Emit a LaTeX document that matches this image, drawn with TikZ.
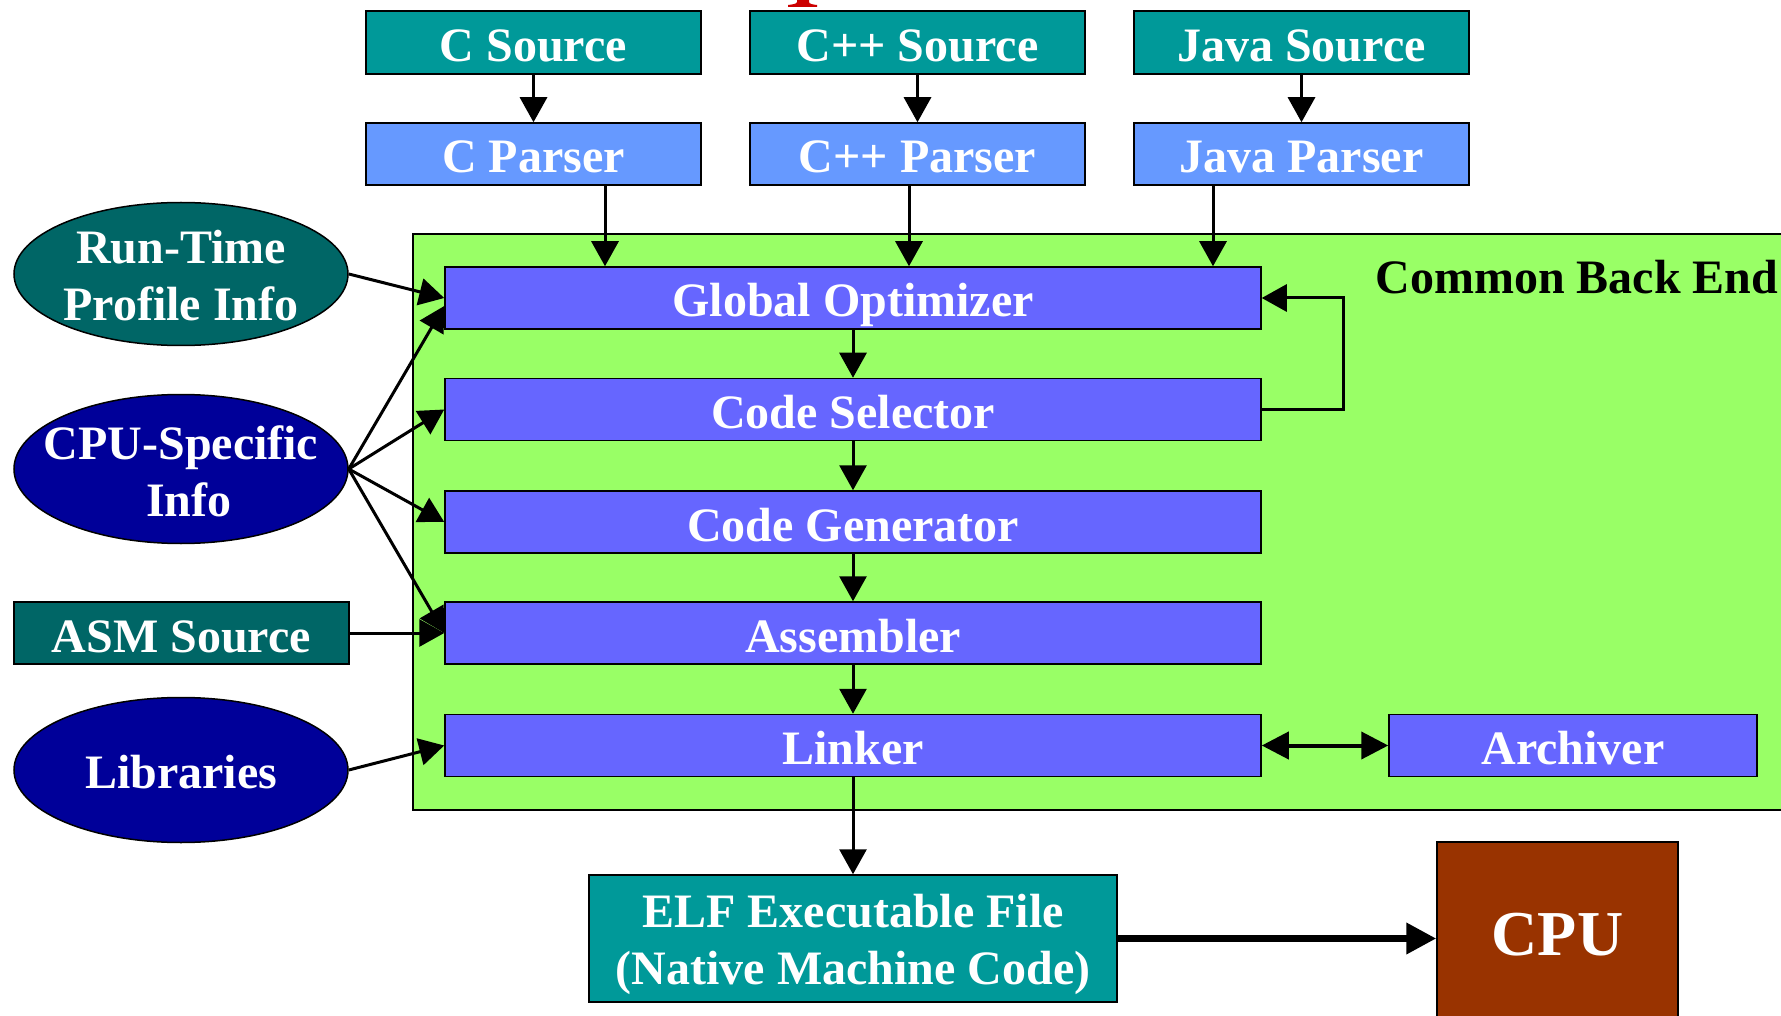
\documentclass[tikz,border=0pt]{standalone}
\usepackage{fontspec}
\setmainfont{Liberation Serif}
\usetikzlibrary{arrows.meta,shapes.geometric}
\definecolor{srcteal}{HTML}{009999}
\definecolor{parserblue}{HTML}{6699FF}
\definecolor{beblue}{HTML}{6666FF}
\definecolor{begreen}{HTML}{99FF66}
\definecolor{darkteal}{HTML}{006666}
\definecolor{navyblue}{HTML}{000099}
\definecolor{cpubrown}{HTML}{993300}
\definecolor{titlered}{HTML}{CC0000}
\begin{document}
\begin{tikzpicture}[x=1pt,y=-1pt,
  basebox/.style={draw=black, line width=1.5pt, inner sep=0pt, text=white,
    font=\bfseries\fontsize{48}{57}\selectfont, align=center},
  box/.style={basebox, text height=38pt, text depth=0pt},
  srcbox/.style={box, fill=srcteal, minimum width=335pt, minimum height=63pt},
  parbox/.style={box, fill=parserblue, minimum width=335pt, minimum height=62pt},
  bebox/.style={box, fill=beblue, minimum width=816pt, minimum height=62pt},
  oval/.style={ellipse, draw=black, line width=1.5pt, inner sep=0pt, minimum width=334pt},
  ovaltext/.style={text=white, inner sep=0pt, align=center, font=\bfseries\fontsize{48}{57}\selectfont},
  arr/.style={-{Triangle[length=25pt,width=27pt]}, line width=3pt},
  darr/.style={{Triangle[length=27pt,width=27pt]}-{Triangle[length=27pt,width=27pt]}, line width=4pt},
  bigarr/.style={-{Triangle[length=30pt,width=30pt]}, line width=7pt}
]
\useasboundingbox (0,0) rectangle (1781,1016);
\clip (0,0) rectangle (1781,1016);

% red title fragment
\fill[titlered] (797,-1) -- (797,2) .. controls (797,4) and (792,4.5) .. (788,5) -- (788,7) -- (817,7) -- (817,5) .. controls (813,4.5) and (809,4) .. (809,2) -- (809,-1) -- cycle;

% common back end area
\draw[fill=begreen, line width=1.5pt] (413,234) rectangle (1810,810);
\node[font=\bfseries\fontsize{48}{57}\selectfont, inner sep=0pt] (cbelabel) at (1577,277) {Common Back End};

% sources and parsers
\node[srcbox] (csrc) at (533.5,42.5) {C Source};
\node[srcbox] (cppsrc) at (917.5,42.5) {C++ Source};
\node[srcbox] (javasrc) at (1301.5,42.5) {Java Source};
\node[parbox] (cpar) at (533.5,154) {C Parser};
\node[parbox] (cpppar) at (917.5,154) {C++ Parser};
\node[parbox] (javapar) at (1301.5,154) {Java Parser};

% back end
\node[bebox] (go) at (853,298) {Global Optimizer};
\node[bebox] (cs) at (853,409.5) {Code Selector};
\node[bebox] (cg) at (853,522) {Code Generator};
\node[bebox] (asm) at (853,633) {Assembler};
\node[bebox] (lnk) at (853,745.5) {Linker};
\node[box, fill=beblue, minimum width=368pt, minimum height=62pt] (arch) at (1573,745.5) {Archiver};

% left inputs
\node[oval, fill=darkteal, minimum height=143pt] (rt) at (181,274) {};
\node[ovaltext, yshift=-2pt] (rttext) at (rt.center) {Run-Time\\Profile Info};
\node[oval, fill=navyblue, minimum height=149pt] (cpuinfo) at (181,469) {};
\node[ovaltext, yshift=-2pt] (cpuinfotext) at (cpuinfo.center) {CPU-Specific\\\hspace*{16pt}Info};
\node[box, fill=darkteal, minimum width=335pt, minimum height=62pt] (asmsrc) at (181.5,633) {ASM Source};
\node[oval, fill=navyblue, minimum height=145pt] (libs) at (181,770) {};
\node[ovaltext, yshift=-2pt] (libstext) at (libs.center) {Libraries};

% outputs
\node[basebox, fill=srcteal, minimum width=528pt, minimum height=127pt] (elf) at (853,938.5) {};
\node[ovaltext, yshift=-6pt] (elftext) at (elf.center) {ELF Executable File\\(Native Machine Code)};
\node[basebox, fill=cpubrown, minimum width=241pt, minimum height=193pt, text height=33pt, text depth=0pt, font=\bfseries\fontsize{64}{70}\selectfont] (cpu) at (1557.5,938.5) {CPU};

% connectors
\draw[arr] (csrc.south) -- (cpar.north);
\draw[arr] (cppsrc.south) -- (cpppar.north);
\draw[arr] (javasrc.south) -- (javapar.north);
\draw[arr] (cpar.south -| 605,0) -- (go.north -| 605,0);
\draw[arr] (cpppar.south -| 909,0) -- (go.north -| 909,0);
\draw[arr] (javapar.south -| 1213,0) -- (go.north -| 1213,0);

\draw[arr] (go.south) -- (cs.north);
\draw[arr] (cs.south) -- (cg.north);
\draw[arr] (cg.south) -- (asm.north);
\draw[arr] (asm.south) -- (lnk.north);
\draw[arr] (lnk.south) -- (elf.north);
\draw[arr] (cs.east) -- ++(82,0) |- (go.east);
\draw[darr] (lnk.east) -- (arch.west);

\draw[arr] (rt.east) -- (go.west);
\draw[arr] (cpuinfo.east) -- ([yshift=-8pt]go.west);
\draw[arr] (cpuinfo.east) -- (cs.west);
\draw[arr] (cpuinfo.east) -- (cg.west);
\draw[arr] (cpuinfo.east) -- (asm.west);
\draw[arr] (asmsrc.east) -- (asm.west);
\draw[arr] (libs.east) -- (lnk.west);

\draw[bigarr] (elf.east) -- (cpu.west);
\end{tikzpicture}
\end{document}
